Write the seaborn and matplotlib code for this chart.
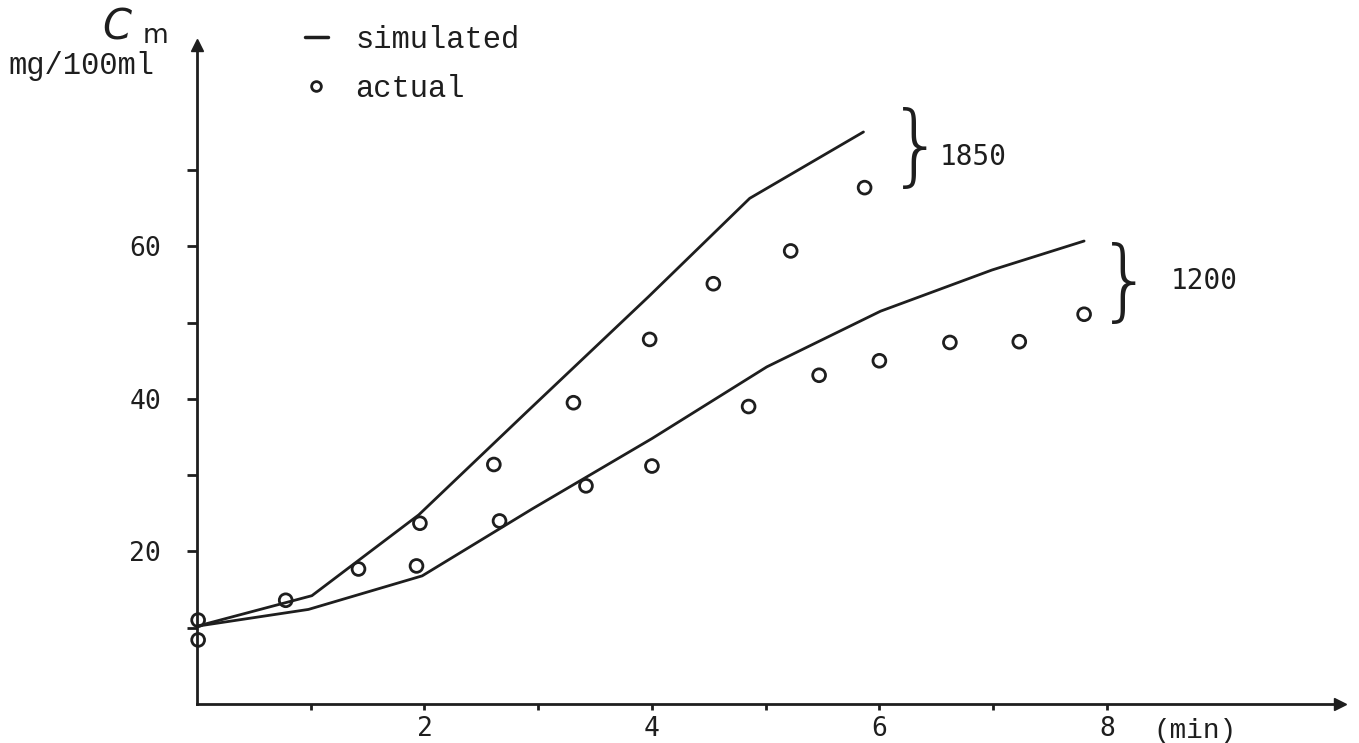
import matplotlib
matplotlib.use("Agg")
import matplotlib.pyplot as plt
from matplotlib.lines import Line2D
import seaborn as sns
import pandas as pd

# ---- data ----
sim1850_t = [0.0, 1.01, 1.95, 2.90, 3.97, 4.86, 5.86]
sim1850_c = [10.2, 14.2, 24.8, 38.3, 53.4, 66.3, 75.0]

sim1200_t = [0.0, 0.98, 1.98, 2.95, 4.00, 5.01, 6.01, 6.99, 7.80]
sim1200_c = [10.2, 12.4, 16.8, 25.6, 34.8, 44.2, 51.5, 56.9, 60.7]

act1850_t = [0.01, 0.78, 1.42, 1.96, 2.61, 3.31, 3.98, 4.54, 5.22, 5.87]
act1850_c = [11.0, 13.6, 17.7, 23.7, 31.4, 39.5, 47.8, 55.1, 59.4, 67.7]

act1200_t = [0.01, 1.93, 2.66, 3.42, 4.00, 4.85, 5.47, 6.00, 6.62, 7.23, 7.80]
act1200_c = [8.4, 18.1, 24.0, 28.6, 31.2, 39.0, 43.1, 45.0, 47.4, 47.5, 51.1]

x_ticks = [1, 2, 3, 4, 5, 6, 7, 8]
x_labels = ["", "2", "", "4", "", "6", "", "8"]
y_ticks = [10, 20, 30, 40, 50, 60, 70]
y_labels = ["", "20", "", "40", "", "60", ""]

sns.set_theme(style="white")
plt.rcParams["font.family"] = ["DejaVu Sans Mono", "DejaVu Sans"]

INK = "#1e1e1e"
W, H = 1359, 743
fig = plt.figure(figsize=(W / 100, H / 100), dpi=100)
ax = fig.add_axes([197 / W, 1 - 704 / H, (1340 - 197) / W, (704 - 45) / H])

sim1850 = pd.DataFrame({"t": sim1850_t, "c": sim1850_c})
sim1200 = pd.DataFrame({"t": sim1200_t, "c": sim1200_c})
act1850 = pd.DataFrame({"t": act1850_t, "c": act1850_c})
act1200 = pd.DataFrame({"t": act1200_t, "c": act1200_c})

for d in (sim1850, sim1200):
    sns.lineplot(data=d, x="t", y="c", ax=ax, color=INK, lw=2.0, sort=False,
                 estimator=None, legend=False)
for d in (act1850, act1200):
    sns.scatterplot(data=d, x="t", y="c", ax=ax, marker="o", s=85,
                    facecolors="none", edgecolor=INK, linewidth=2.0,
                    legend=False, clip_on=False)

ax.set_xlim(0, 10.05)
ax.set_ylim(0, 86.4)
ax.set_xlabel("")
ax.set_ylabel("")

for s in ("top", "right"):
    ax.spines[s].set_visible(False)
for s in ("left", "bottom"):
    ax.spines[s].set_linewidth(2.0)
    ax.spines[s].set_color(INK)

# axis arrows
ax.plot(1, 0, marker=">", color=INK, ms=9, transform=ax.transAxes, clip_on=False)
ax.plot(0, 1, marker="^", color=INK, ms=9, transform=ax.transAxes, clip_on=False)

ax.set_xticks(x_ticks)
ax.set_xticklabels(x_labels)
ax.set_yticks(y_ticks)
ax.set_yticklabels(y_labels)
ax.tick_params(axis="x", direction="out", length=4, width=2, color=INK,
               labelsize=19, pad=5, bottom=True, labelcolor=INK)
ax.tick_params(axis="y", direction="out", length=7, width=2, color=INK,
               labelsize=19, pad=19, left=True, labelcolor=INK)

# unit labels
fig.text(1153 / W, 1 - 731 / H, "(min)", family="Liberation Mono", fontsize=20,
         color=INK, va="center", ha="left")
fig.text(8 / W, 1 - 66 / H, "mg/100ml", family="Liberation Mono", fontsize=22,
         color=INK, va="center", ha="left")
fig.text(102 / W, 1 - 28 / H, "C", family="DejaVu Sans", style="italic",
         fontsize=30, color=INK, va="center", ha="left")
fig.text(143 / W, 1 - 36 / H, "m", family="DejaVu Sans", fontsize=19,
         color=INK, va="center", ha="left")

# braces and group labels
ax.text(6.32, 72.6, "}", fontsize=64, family="DejaVu Sans", fontweight="ultralight",
        color=INK, va="center", ha="center")
ax.text(6.53, 71.7, "1850", fontsize=20, color=INK, va="center", ha="left")
ax.text(8.16, 54.9, "}", fontsize=64, family="DejaVu Sans", fontweight="ultralight",
        color=INK, va="center", ha="center")
ax.text(8.56, 55.4, "1200", fontsize=20, color=INK, va="center", ha="left")

# legend
handles = [Line2D([], [], color=INK, lw=2.5),
           Line2D([], [], ls="", marker="o", mfc="none", mec=INK, ms=7, mew=2)]
fig.legend(handles, ["simulated", "actual"], loc="upper left",
           bbox_to_anchor=(305 / W, 1 - 25 / H), frameon=False,
           prop={"family": "Liberation Mono", "size": 22},
           handlelength=0.75, handletextpad=0.9, labelspacing=0.62,
           borderpad=0, borderaxespad=0, labelcolor=INK)

fig.savefig("out.png", dpi=100, facecolor="white")
